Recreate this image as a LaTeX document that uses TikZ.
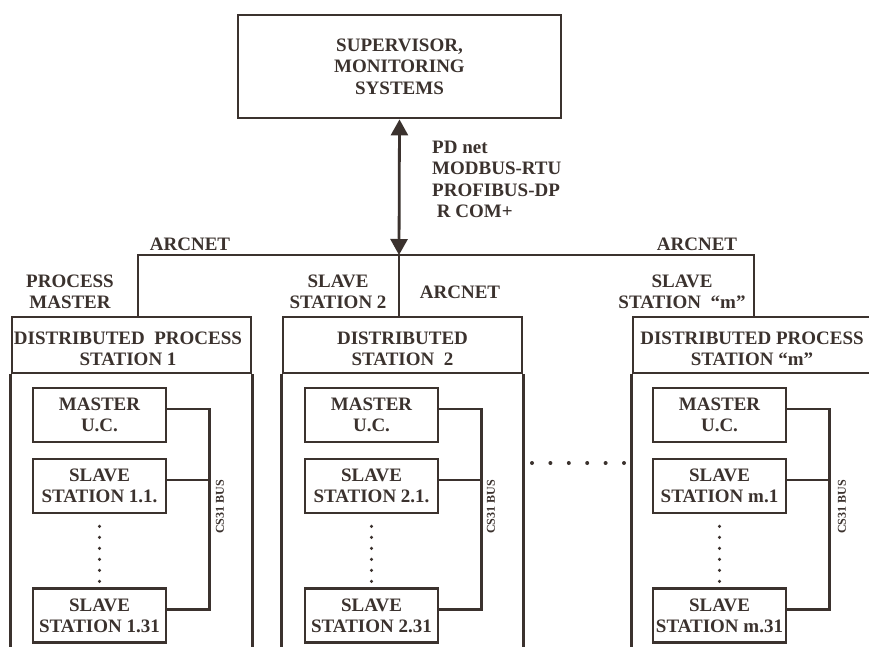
\documentclass[tikz,border=0pt]{standalone}
\usepackage{fontspec}
\setmainfont{Liberation Serif}
\usetikzlibrary{arrows.meta}
\definecolor{ink}{HTML}{3B322E}
\newcommand\lbfont{\fontsize{19}{21.3}\selectfont\bfseries}
\newcommand\smfont{\fontsize{12}{14}\selectfont\bfseries}
\begin{document}
\begin{tikzpicture}[x=1pt,y=-1pt,
  ln/.style={draw=ink, line width=2.8pt},
  txt/.style={text=ink, font=\lbfont, align=center, inner sep=0pt},
  bx/.style={ln, rectangle, inner sep=0pt, fill=none},
  inbox/.style={bx, minimum width=133pt, minimum height=54pt, txt},
  hdr/.style={bx, minimum width=239pt, minimum height=56pt},
  bus/.style={text=ink, font=\smfont, rotate=90, inner sep=0pt},
  dotc/.style={fill=ink, draw=none}]
\useasboundingbox (0,0) rectangle (869,646);
\clip (0,0) rectangle (869,646);

% supervisor
\node[bx, txt, minimum width=323pt, minimum height=103pt] (sup) at (399.5,66.5) {SUPERVISOR,\\MONITORING\\SYSTEMS};
\node[txt, align=left, anchor=north west] (proto) at (432,141) {PD net\\MODBUS-RTU\\PROFIBUS-DP\\\ R COM+};

% station headers
\node[hdr] (h1) at (131.5,345) {};
\node[hdr] (h2) at (402.5,345) {};
\node[hdr] (h3) at (752.5,345) {};
\node[txt] (h1t) at (128,349) {DISTRIBUTED\ \ PROCESS\\STATION 1};
\node[txt] (h2t) at (402.5,349) {DISTRIBUTED\\STATION\ \ 2};
\node[txt] (h3t) at (752,349) {DISTRIBUTED PROCESS\\STATION \textquotedblleft m\textquotedblright};
\foreach \h in {h1,h2,h3}{
  \draw[ln] (\h.south west) -- ++(0,320);
  \draw[ln] (\h.south east) -- ++(0,320);
}

% bus
\coordinate (busL) at (138,255);
\coordinate (busM) at (399,255);
\coordinate (busR) at (754,255);
\draw[ln] (busL |- h1.north) -- (busL) -- (busR) -- (busR |- h3.north);
\draw[ln] (busM) -- (busM |- h2.north);
\draw[ln, {Triangle[width=17pt,length=16pt]}-{Triangle[width=17pt,length=16pt]}] (sup.south) -- (busM);

% bus labels
\node[txt] (arcL) at (190,244) {ARCNET};
\node[txt] (arcR) at (697,244) {ARCNET};
\node[txt] (arcM) at (460,292) {ARCNET};
\node[txt] (pm) at (70,292) {PROCESS\\MASTER};
\node[txt] (ss2) at (338,292) {SLAVE\\STATION 2};
\node[txt] (ssm) at (682,292) {SLAVE\\STATION\ \ \textquotedblleft m\textquotedblright};

% inner boxes
\node[inbox] (m1) at (99.5,415) {MASTER\\U.C.};
\node[inbox] (s11) at (99.5,486) {SLAVE\\STATION 1.1.};
\node[inbox] (s131) at (99.5,615.5) {SLAVE\\STATION 1.31};
\node[inbox] (m2) at (371.5,415) {MASTER\\U.C.};
\node[inbox] (s21) at (371.5,486) {SLAVE\\STATION 2.1.};
\node[inbox] (s231) at (371.5,615.5) {SLAVE\\STATION 2.31};
\node[inbox] (m3) at (719.5,415) {MASTER\\U.C.};
\node[inbox] (s31) at (719.5,486) {SLAVE\\STATION m.1};
\node[inbox] (s331) at (719.5,615.5) {SLAVE\\STATION m.31};

% CS31 buses
\foreach \m/\s/\l/\lx in {m1/s11/s131/220, m2/s21/s231/491, m3/s31/s331/842}{
  \draw[ln] ([yshift=6pt]\m.east) -- ++(42,0) |- ([yshift=6pt]\l.east);
  \draw[ln] ([yshift=6pt]\s.east) -- ++(42,0);
  \node[bus] at (\lx,507) {CS31 BUS};
  \foreach \k in {0,...,5}{
    \fill[dotc] ([yshift=-12pt-11*\k pt]\s.south) circle (1.7pt);
  }
}

% dots between stations
\foreach \k in {0,...,5}{
  \fill[dotc] (532+18.4*\k,463) circle (2pt);
}
\end{tikzpicture}
\end{document}
